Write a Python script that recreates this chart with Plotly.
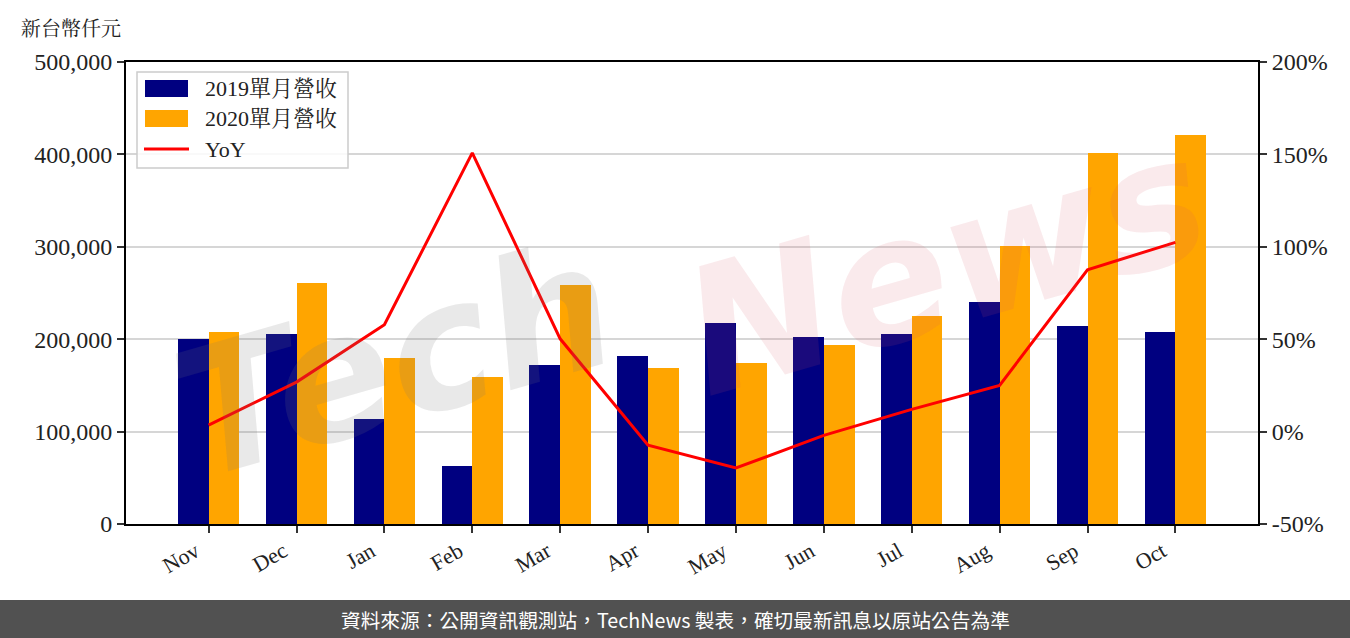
import plotly.graph_objects as go

months = ["Nov", "Dec", "Jan", "Feb", "Mar", "Apr", "May", "Jun", "Jul", "Aug", "Sep", "Oct"]
rev_2019 = [200200, 205600, 113600, 62800, 172100, 181800, 217500, 202400, 205600, 240300, 214300, 207800]
rev_2020 = [207800, 260800, 179700, 159100, 258700, 168800, 174200, 193700, 225100, 300900, 401500, 421000]
yoy = [3.5, 26.8, 57.8, 150.8, 50.2, -7.3, -19.7, -2.0, 12.0, 25.0, 87.6, 102.4]

left_ticks = [0, 100000, 200000, 300000, 400000, 500000]
left_labels = ["0", "100,000", "200,000", "300,000", "400,000", "500,000"]
right_ticks = [-50, 0, 50, 100, 150, 200]
right_labels = ["-50%", "0%", "50%", "100%", "150%", "200%"]
series_names = ["2019單月營收", "2020單月營收", "YoY"]
series_colors = ["#000080", "#FFA500", "#FF0000"]

xi = list(range(len(months)))
BW = 0.35
SERIF = "Liberation Serif, 'Noto Serif CJK TC', 'Noto Sans CJK TC', serif"

W, H = 1350, 638
L, R, T, B = 126, 92, 62, 114
pw, ph = W - L - R, H - T - B


def px(x):
    return (x - L) / pw


def py(y):
    return (H - B - y) / ph


fig = go.Figure()
fig.add_trace(go.Bar(x=[i - BW / 2 for i in xi], y=rev_2019, width=BW, name=series_names[0],
                     marker=dict(color=series_colors[0], line=dict(width=0))))
fig.add_trace(go.Bar(x=[i + BW / 2 for i in xi], y=rev_2020, width=BW, name=series_names[1],
                     marker=dict(color=series_colors[1], line=dict(width=0))))
fig.add_trace(go.Scatter(x=xi, y=yoy, name=series_names[2], mode="lines", yaxis="y2",
                         line=dict(color=series_colors[2], width=3)))

fig.update_layout(
    width=W, height=H,
    margin=dict(l=L, r=R, t=T, b=B),
    paper_bgcolor="white", plot_bgcolor="white",
    barmode="overlay", bargap=0,
    font=dict(family=SERIF, size=22, color="#222"),
    showlegend=False,
    xaxis=dict(range=[-0.94, 11.94], tickmode="array", tickvals=xi, ticktext=months,
               tickangle=-30, ticks="outside", ticklen=7, tickwidth=2, tickcolor="#333",
               ticklabelshift=-13, ticklabelstandoff=-3,
               showline=True, linecolor="black", linewidth=2, mirror=True,
               showgrid=False, zeroline=False, tickfont=dict(family=SERIF, size=22)),
    yaxis=dict(range=[0, 500000], tickmode="array", tickvals=left_ticks, ticktext=left_labels,
               ticks="outside", ticklen=7, tickwidth=2, tickcolor="#333",
               showline=True, linecolor="black", linewidth=2,
               showgrid=True, gridcolor="#d6d6d6", gridwidth=1.5, zeroline=False,
               tickfont=dict(family=SERIF, size=24)),
    yaxis2=dict(range=[-50, 200], overlaying="y", side="right", tickmode="array",
                tickvals=right_ticks, ticktext=right_labels,
                ticks="outside", ticklen=7, tickwidth=2, tickcolor="#333",
                showline=True, linecolor="black", linewidth=2,
                showgrid=False, zeroline=False, tickfont=dict(family=SERIF, size=24)),
)

# watermark
fig.add_annotation(text="<i><b>Tech</b></i>", xref="paper", yref="paper", x=px(395), y=py(360),
                   xanchor="center", yanchor="middle",
                   showarrow=False, textangle=-16,
                   font=dict(family="DejaVu Sans", size=175, color="rgba(120,120,120,0.16)"))
fig.add_annotation(text="<i><b>News</b></i>", xref="paper", yref="paper", x=px(945), y=py(265),
                   xanchor="center", yanchor="middle",
                   showarrow=False, textangle=-16,
                   font=dict(family="DejaVu Sans", size=175, color="rgba(215,80,95,0.12)"))

# manual legend
x0, x1, y0, y1 = px(137), px(348), py(72), py(168)
fig.add_shape(type="rect", xref="paper", yref="paper", x0=x0, x1=x1, y0=y1, y1=y0,
              fillcolor="rgba(255,255,255,0.85)", line=dict(color="#cccccc", width=1.5),
              layer="above")
patch_y = [88.5, 118.5, 149]
for k in range(3):
    if k < 2:
        fig.add_shape(type="rect", xref="paper", yref="paper",
                      x0=px(145), x1=px(188), y0=py(patch_y[k] + 8.5), y1=py(patch_y[k] - 8.5),
                      fillcolor=series_colors[k], line=dict(width=0), layer="above")
    else:
        fig.add_shape(type="line", xref="paper", yref="paper",
                      x0=px(144), x1=px(189), y0=py(patch_y[k]), y1=py(patch_y[k]),
                      line=dict(color=series_colors[k], width=3), layer="above")
    fig.add_annotation(text=series_names[k], xref="paper", yref="paper",
                       x=px(203), y=py(patch_y[k]), xanchor="left", yanchor="middle",
                       showarrow=False, font=dict(family=SERIF, size=22, color="#222"))

# axis title
fig.add_annotation(text="新台幣仟元", xref="paper", yref="paper", x=px(19), y=py(27),
                   xanchor="left", yanchor="middle", showarrow=False,
                   font=dict(family="'Noto Serif CJK TC', 'Noto Sans CJK TC'", size=20, color="#222"))

# footer
fig.add_shape(type="rect", xref="paper", yref="paper",
              x0=px(-5), x1=px(W + 5), y0=py(H + 5), y1=py(600),
              fillcolor="#515151", line=dict(width=0), layer="above")
fig.add_annotation(text="資料來源：公開資訊觀測站，TechNews 製表，確切最新訊息以原站公告為準",
                   xref="paper", yref="paper", x=px(675), y=py(619),
                   xanchor="center", yanchor="middle", showarrow=False,
                   font=dict(family="'Noto Sans CJK TC', sans-serif", size=19.7, color="white"))

fig.write_html("out.html", config={"displayModeBar": False},
               post_script="document.body.style.margin='0';document.body.style.overflow='hidden';")
